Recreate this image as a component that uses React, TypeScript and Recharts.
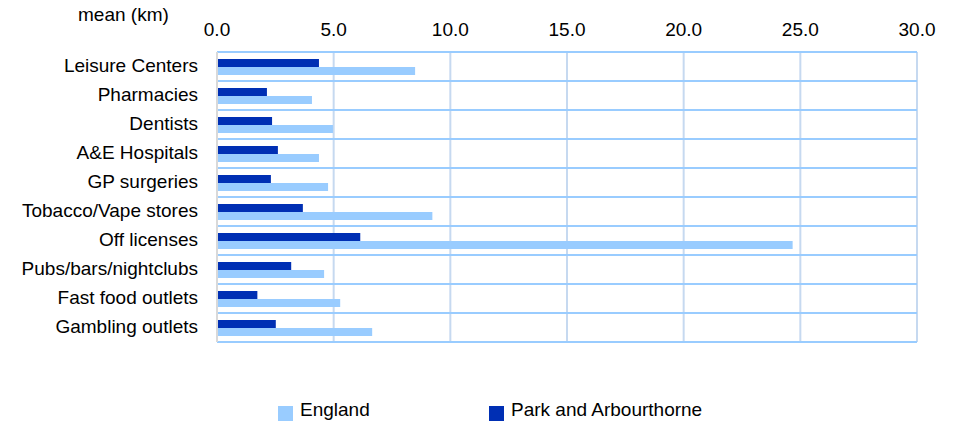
import React from "react";
import {
  BarChart,
  Bar,
  XAxis,
  YAxis,
  CartesianGrid,
} from "recharts";

const categories = [
  "Leisure Centers",
  "Pharmacies",
  "Dentists",
  "A&E Hospitals",
  "GP surgeries",
  "Tobacco/Vape stores",
  "Off licenses",
  "Pubs/bars/nightclubs",
  "Fast food outlets",
  "Gambling outlets",
];
const parkValues = [4.37, 2.14, 2.36, 2.61, 2.31, 3.68, 6.14, 3.18, 1.73, 2.52];
const englandValues = [8.49, 4.07, 4.97, 4.37, 4.76, 9.23, 24.67, 4.59, 5.28, 6.65];
const xTicks = [0, 5, 10, 15, 20, 25, 30];

const data = categories.map((name, i) => ({
  name,
  park: parkValues[i],
  england: englandValues[i],
}));

const FONT = "'Liberation Sans', Arial, sans-serif";
const FS = 19;
const DARK = "#002fb4";
const LIGHT = "#99ccff";

// legend drawn by hand below the plot, same as the original
const LegendBox = () => (
  <div style={{ position: "absolute", left: 0, top: 399, width: 955, height: 24, fontSize: FS, color: "#000" }}>
    <div style={{ position: "absolute", left: 278, top: 7, width: 15, height: 15, background: LIGHT }} />
    <div style={{ position: "absolute", left: 300, top: 0 }}>England</div>
    <div style={{ position: "absolute", left: 489, top: 7, width: 15, height: 15, background: DARK }} />
    <div style={{ position: "absolute", left: 511, top: 0 }}>Park and Arbourthorne</div>
  </div>
);

export default function App() {
  return (
    <div style={{ position: "absolute", left: 0, top: 0, width: 955, height: 422, background: "#fff", fontFamily: FONT, overflow: "hidden" }}>
      <div style={{ position: "absolute", left: 78, top: 4, fontSize: FS, color: "#000" }}>mean (km)</div>
      <BarChart
        width={955}
        height={422}
        data={data}
        layout="vertical"
        margin={{ top: 22, right: 38, bottom: 80, left: 0 }}
        barGap={0}
        barSize={8}
      >
        <CartesianGrid horizontal={false} stroke="#c6d9f0" strokeWidth={2} />
        <CartesianGrid
          vertical={false}
          stroke={LIGHT}
          strokeWidth={2}
          horizontalCoordinatesGenerator={({ offset }: any) =>
            categories.map((_, i) => offset.top + (i * offset.height) / categories.length).concat([offset.top + offset.height])
          }
        />
        <XAxis
          type="number"
          orientation="top"
          domain={[0, 30]}
          ticks={xTicks}
          tickFormatter={(v: number) => v.toFixed(1)}
          axisLine={false}
          tickLine={false}
          height={30}
          tickMargin={10}
          tick={{ fill: "#000", fontSize: FS, fontFamily: FONT }}
        />
        <YAxis
          type="category"
          dataKey="name"
          width={217}
          axisLine={{ stroke: "#d9d9d9", strokeWidth: 2 }}
          tickLine={false}
          tickSize={0}
          tickMargin={19}
          interval={0}
          tick={{ fill: "#000", fontSize: FS, fontFamily: FONT, dy: -1 }}
        />
        <Bar dataKey="park" name="Park and Arbourthorne" fill={DARK} isAnimationActive={false} />
        <Bar dataKey="england" name="England" fill={LIGHT} isAnimationActive={false} />
      </BarChart>
      <LegendBox />
    </div>
  );
}
